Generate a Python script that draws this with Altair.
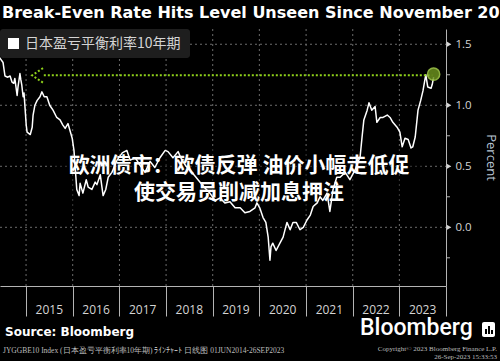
import altair as alt
import pandas as pd

# ---------------- data ----------------
dates = [
    "2014-06-01", "2014-07-05", "2014-07-20", "2014-08-11", "2014-08-29", "2014-09-13",
    "2014-09-27", "2014-10-05", "2014-10-23", "2014-10-30", "2014-11-14", "2014-11-21",
    "2014-11-28", "2014-12-09", "2014-12-16", "2015-01-02", "2015-01-09", "2015-02-03",
    "2015-02-18", "2015-02-25", "2015-03-11", "2015-03-29", "2015-04-20", "2015-05-05",
    "2015-05-23", "2015-06-13", "2015-07-05", "2015-07-31", "2015-08-29", "2015-09-24",
    "2015-10-15", "2015-11-03", "2015-11-25", "2015-12-09", "2015-12-28", "2016-01-11",
    "2016-02-02", "2016-02-20", "2016-02-28", "2016-03-21", "2016-04-16", "2016-05-01",
    "2016-05-30", "2016-06-25", "2016-07-09", "2016-08-04", "2016-08-26", "2016-09-16",
    "2016-10-05", "2016-11-03", "2016-12-13", "2017-01-23", "2017-02-28", "2017-03-26",
    "2017-05-05", "2017-06-10", "2017-07-20", "2017-08-29", "2017-10-05", "2017-11-14",
    "2017-12-25", "2018-01-16", "2018-02-24", "2018-04-05", "2018-05-05", "2018-06-07",
    "2018-07-06", "2018-08-15", "2018-09-24", "2018-11-03", "2018-12-10", "2019-01-19",
    "2019-02-28", "2019-04-06", "2019-05-16", "2019-06-25", "2019-08-04", "2019-09-10",
    "2019-10-19", "2019-11-28", "2019-12-13", "2020-01-04", "2020-01-30", "2020-02-21",
    "2020-03-10", "2020-03-24", "2020-04-01", "2020-04-15", "2020-05-11", "2020-06-10",
    "2020-07-05", "2020-08-04", "2020-08-29", "2020-09-20", "2020-10-16", "2020-11-14",
    "2020-12-10", "2021-01-08", "2021-02-03", "2021-02-25", "2021-03-29", "2021-04-20",
    "2021-05-12", "2021-06-14", "2021-07-06", "2021-07-31", "2021-08-29", "2021-09-24",
    "2021-11-03", "2021-12-10", "2022-01-19", "2022-02-28", "2022-03-15", "2022-03-29",
    "2022-04-24", "2022-05-08", "2022-05-30", "2022-06-25", "2022-07-09", "2022-08-04",
    "2022-08-26", "2022-09-28", "2022-10-20", "2022-11-11", "2022-12-14", "2023-01-05",
    "2023-01-23", "2023-02-14", "2023-03-11", "2023-04-02", "2023-04-16", "2023-05-05",
    "2023-05-27", "2023-06-17", "2023-07-05", "2023-07-20", "2023-07-27", "2023-08-11",
    "2023-09-06", "2023-09-15", "2023-09-26",
]
values = [
    1.40, 1.35, 1.24, 1.23, 1.24, 1.19,
    1.18, 1.22, 1.08, 1.15, 1.26, 1.21,
    1.17, 1.07, 1.10, 0.84, 0.78, 0.76,
    0.82, 0.92, 1.00, 1.04, 1.07, 1.11,
    1.07, 1.07, 1.00, 0.96, 0.90, 0.88,
    0.84, 0.81, 0.85, 0.80, 0.73, 0.63,
    0.31, 0.26, 0.36, 0.28, 0.39, 0.33,
    0.31, 0.37, 0.35, 0.43, 0.26, 0.31,
    0.41, 0.45, 0.55, 0.61, 0.63, 0.55,
    0.57, 0.51, 0.45, 0.54, 0.49, 0.57,
    0.63, 0.62, 0.57, 0.62, 0.55, 0.50,
    0.47, 0.42, 0.37, 0.32, 0.28, 0.22,
    0.24, 0.20, 0.21, 0.16, 0.16, 0.12,
    0.13, 0.16, 0.20, 0.16, 0.08, 0.04,
    -0.08, -0.27, -0.16, -0.13, -0.19, -0.13,
    -0.08, 0.04, -0.02, 0.04, 0.04, -0.02,
    0.00, 0.06, 0.10, 0.17, 0.20, 0.25,
    0.22, 0.28, 0.13, 0.31, 0.41, 0.41,
    0.45, 0.39, 0.47, 0.58, 0.74, 0.88,
    0.96, 1.02, 0.96, 0.99, 0.86, 0.90,
    0.90, 0.92, 0.90, 0.86, 0.82, 0.78,
    0.66, 0.73, 0.72, 0.65, 0.66, 0.74,
    0.96, 1.04, 1.12, 1.21, 1.25, 1.15,
    1.14, 1.17, 1.23,
]

years = [2015, 2016, 2017, 2018, 2019, 2020, 2021, 2022, 2023]
year_labels = ["2015", "2016", "2017", "2018", "2019", "2020", "2021", "2022", "2023"]
major_ticks = [0.0, 0.5, 1.0, 1.5]
minor_ticks = [-0.25, 0.25, 0.75, 1.25]

level_value = 1.245
level_start = "2015-05-20"
level_end = "2023-09-16"
arrow_date = "2015-04-01"
marker_date = "2023-09-26"
marker_value = 1.255

title_text = "Break-Even Rate Hits Level Unseen Since November 2014"
legend_text = "日本盈亏平衡利率10年期"
overlay_line1 = "欧洲债市：欧债反弹 油价小幅走低促"
overlay_line2 = "使交易员削减加息押注"
source_text = "Source: Bloomberg"
footer_left = "JYGGBE10 Index (日本盈亏平衡利率10年期) ﾗｲﾝﾁｬｰﾄ  日线图 01JUN2014-26SEP2023"
footer_right1 = "Copyright© 2023 Bloomberg Finance L.P."
footer_right2 = "26-Sep-2023 15:33:53"

# ---------------- layout ----------------
W, H = 446, 257
AXIS = "#b4b4b4"
GRID = "#6c6c6c"
LABEL = "#d4d4d4"
GREEN = "#8fd11a"

df = pd.DataFrame({"date": dates, "value": values})

xs = alt.Scale(domain=[alt.DateTime(year=2014, month=6, date=11),
                       alt.DateTime(year=2024, month=1, date=1)])
ys = alt.Scale(domain=[-0.481, 1.625], nice=False, zero=False)

x_axis = alt.Axis(
    values=[alt.DateTime(year=y, month=1, date=1) for y in years + [2024]],
    labels=False, tickSize=30, grid=False, title=None,
    domainColor=AXIS, tickColor=AXIS, domainWidth=1, tickWidth=1,
)
y_axis = alt.Axis(
    orient="right", values=major_ticks, format=".1f",
    tickSize=4, grid=False, domainColor=AXIS, tickColor=AXIS,
    labelColor=LABEL, labelFont="Open Sans", labelFontSize=11.5, labelPadding=5,
    title="Percent", titleColor="#b9c6d4", titleFont="Open Sans",
    titleFontSize=13, titleFontWeight="normal", titleAngle=90,
    titleX=44, titleY=128, titleAlign="center", titleBaseline="middle",
)

one = alt.Data(values=[{"a": 1}])

def txt(text, x, y, size, color="white", weight="normal", font="DejaVu Sans",
        align="left", baseline="middle"):
    return alt.Chart(one).mark_text(
        text=text, fontSize=size, color=color, fontWeight=weight, font=font,
        align=align, baseline=baseline,
    ).encode(x=alt.value(x), y=alt.value(y))

def box(x, x2, y, y2, color, radius=0, opacity=1.0):
    return alt.Chart(one).mark_rect(
        color=color, cornerRadius=radius, opacity=opacity
    ).encode(x=alt.value(x), x2=alt.value(x2), y=alt.value(y), y2=alt.value(y2))

# gridlines
hgrid = alt.Chart(pd.DataFrame({"v": major_ticks})).mark_rule(
    color=GRID, strokeDash=[2, 3], strokeWidth=1
).encode(y=alt.Y("v:Q", scale=ys), x=alt.value(0), x2=alt.value(W))

vgrid = alt.Chart(pd.DataFrame({"d": [f"{y}-01-01" for y in years]})).mark_rule(
    color=GRID, strokeDash=[2, 3], strokeWidth=1
).encode(x=alt.X("d:T", scale=xs), y=alt.value(0), y2=alt.value(H))

minor = alt.Chart(pd.DataFrame({"v": minor_ticks})).mark_rule(
    color=AXIS, strokeWidth=1
).encode(y=alt.Y("v:Q", scale=ys), x=alt.value(W), x2=alt.value(W + 4))

dim = box(55, 425, 118, 183, "black", opacity=0.45)

line = alt.Chart(df).mark_line(
    color="white", strokeWidth=1.5, strokeJoin="round"
).encode(
    x=alt.X("date:T", scale=xs, axis=x_axis),
    y=alt.Y("value:Q", scale=ys, axis=y_axis),
)

level_df = pd.DataFrame({"d1": [level_start], "d2": [level_end], "v": [level_value]})
level_rule = alt.Chart(level_df).mark_rule(
    color=GREEN, strokeDash=[2, 2], strokeWidth=2
).encode(x=alt.X("d1:T", scale=xs), x2="d2:T", y=alt.Y("v:Q", scale=ys))

arrow = alt.Chart(pd.DataFrame({"d": [arrow_date], "v": [level_value]})).mark_point(
    shape="M0.75,-1L-0.75,0L0.75,1", size=210, filled=False, color=GREEN,
    strokeWidth=2, strokeDash=[2, 2], opacity=1
).encode(x=alt.X("d:T", scale=xs), y=alt.Y("v:Q", scale=ys))

marker = alt.Chart(pd.DataFrame({"d": [marker_date], "v": [marker_value]})).mark_point(
    shape="circle", size=150, filled=True, color="#6a8f1e", opacity=0.85,
    stroke="#a6cf4c", strokeWidth=1.5
).encode(x=alt.X("d:T", scale=xs), y=alt.Y("v:Q", scale=ys))

tri = alt.Chart(pd.DataFrame({"v": major_ticks})).mark_point(
    shape="triangle-right", size=28, filled=True, color=LABEL, opacity=1
).encode(y=alt.Y("v:Q", scale=ys), x=alt.value(W + 3))

year_df = pd.DataFrame({"d": [f"{y}-07-02" for y in years], "t": year_labels})
year_text = alt.Chart(year_df).mark_text(
    font="Open Sans", fontSize=12, color=LABEL, baseline="middle", align="center"
).encode(x=alt.X("d:T", scale=xs), y=alt.value(280.5), text="t:N")

title = txt(title_text, 2, -10.7, 16, weight="bold", baseline="alphabetic")
legend_bg = box(0, 190, 0, 29, "#1e1e1e", radius=3)
legend_sq = box(8, 19, 9, 20, "white")
legend_t = txt(legend_text, 25, 14.5, 14, color=LABEL, font="Noto Sans CJK SC")

ov1 = txt(overlay_line1, 239, 137, 21, weight="bold", font="Noto Sans CJK SC", align="center")
ov2 = txt(overlay_line2, 239, 164, 21, weight="bold", font="Noto Sans CJK SC", align="center")

source = txt(source_text, 5, 302.5, 12, weight="bold")
logo = txt("Bloomberg", 360, 306, 23, font="Roboto", weight=500, baseline="alphabetic")
icon_bg = box(482, 495, 293, 308, "white", radius=2)
icon_b1 = box(485, 487, 300, 305, "black")
icon_b2 = box(488, 490, 297, 305, "black")
icon_b3 = box(491, 493, 301, 305, "black")
foot_l = txt(footer_left, 3, 322, 7.5, color="#bdbdbd", font="Liberation Serif")
foot_r1 = txt(footer_right1, 497, 320, 7, color="#bdbdbd", font="Liberation Serif", align="right")
foot_r2 = txt(footer_right2, 497, 328, 7, color="#bdbdbd", font="Liberation Serif", align="right")

chart = alt.layer(
    hgrid, vgrid, dim, line, minor, level_rule, arrow, marker, tri, year_text,
    title, legend_bg, legend_sq, legend_t, ov1, ov2,
    source, logo, icon_bg, icon_b1, icon_b2, icon_b3, foot_l, foot_r1, foot_r2,
).properties(
    width=W, height=H,
    autosize=alt.AutoSizeParams(type="none"),
    padding={"left": 0, "top": 29, "right": 54, "bottom": 75},
    background="#000000",
).configure_view(stroke=None)

chart.save("out.html", embed_options={"renderer": "svg", "actions": False})
